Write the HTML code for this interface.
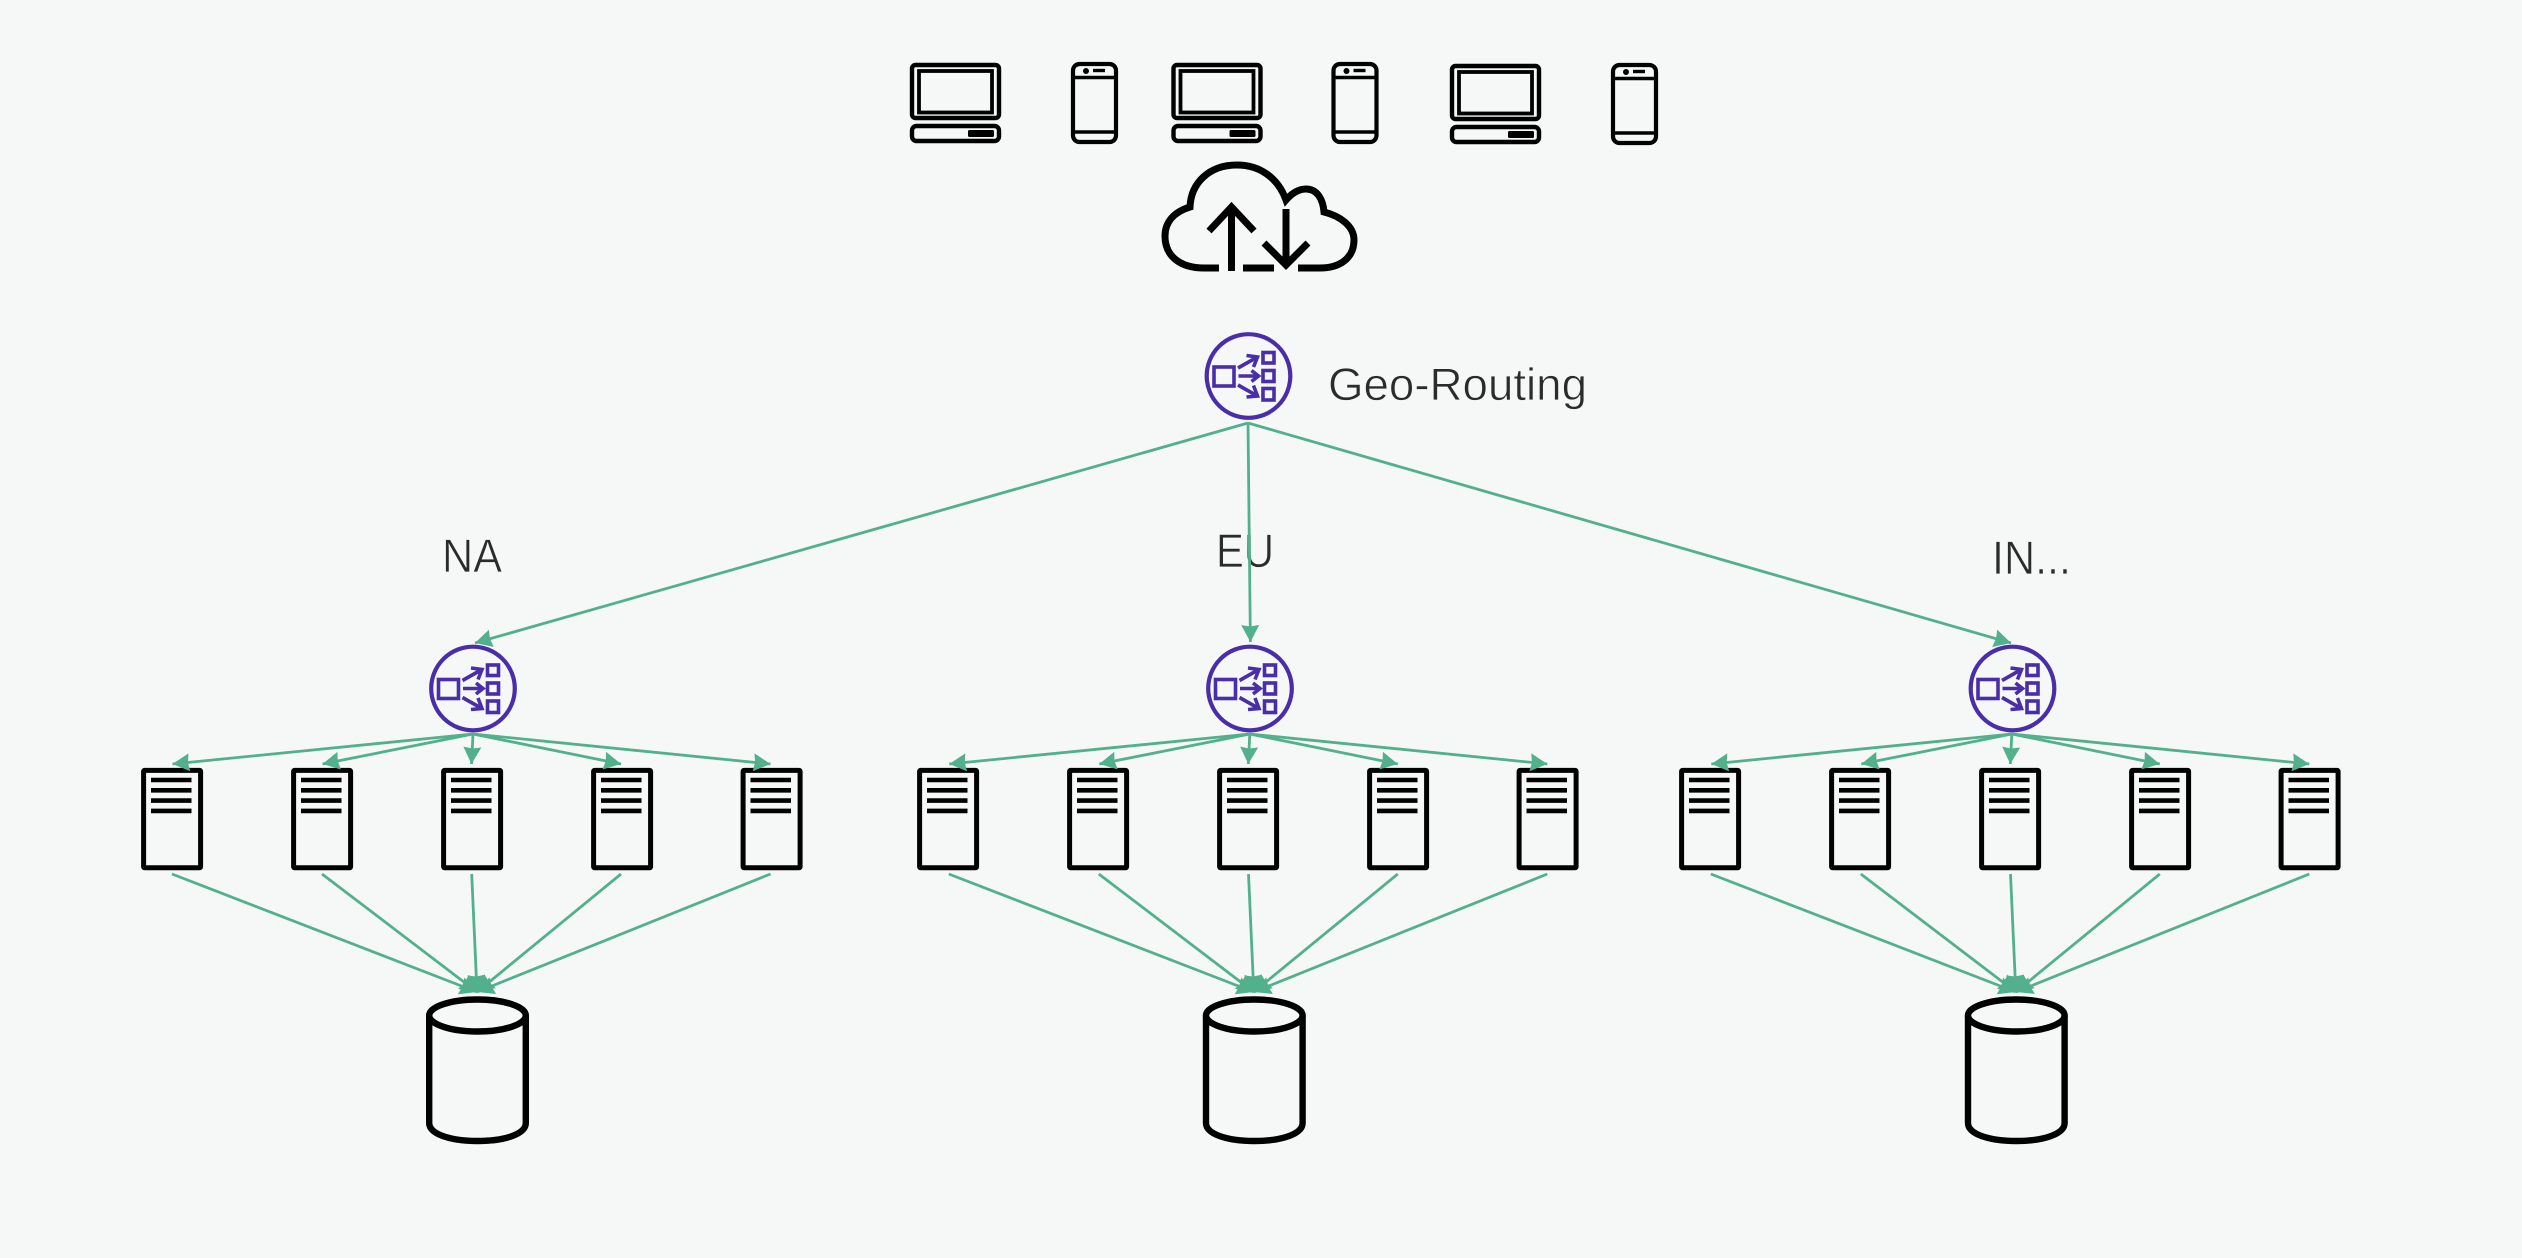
<!DOCTYPE html>
<html lang="en">
<head>
<meta charset="utf-8">
<title>Geo-Routing diagram</title>
<style>
html,body{margin:0;padding:0;background:#f6f8f8;width:2522px;height:1258px;overflow:hidden}
svg{display:block}
.t{font-family:"Liberation Sans",sans-serif;fill:#2b2b2b;stroke:#f6f8f8;stroke-width:.7;paint-order:normal}
.g{stroke:#52b18c;stroke-width:2.8;fill:none}
</style>
</head>
<body>
<svg width="2522" height="1258" viewBox="0 0 2522 1258" xmlns="http://www.w3.org/2000/svg">
<defs>
  <marker id="ah" markerUnits="userSpaceOnUse" markerWidth="17" markerHeight="18" refX="17" refY="9" orient="auto" viewBox="0 0 17 18">
    <path d="M0 0 L17 9 L0 18 L1.5 9 Z" fill="#52b18c"/>
  </marker>

  <g id="laptop">
    <rect x="912" y="65" width="87" height="53" rx="3.5" fill="none" stroke="#000" stroke-width="4.4"/>
    <rect x="919" y="71" width="73" height="41.5" fill="none" stroke="#000" stroke-width="3.8"/>
    <rect x="912" y="126" width="87" height="15" rx="4.5" fill="none" stroke="#000" stroke-width="4.4"/>
    <rect x="968" y="130" width="26" height="7" rx="1.5" fill="#000"/>
  </g>
  <g id="phone">
    <rect x="1073" y="64" width="43" height="78" rx="6.5" fill="none" stroke="#000" stroke-width="4.2"/>
    <path d="M1073 77.5H1116M1073 132H1116" stroke="#000" stroke-width="3.6" fill="none"/>
    <circle cx="1086" cy="71" r="3" fill="#000"/>
    <path d="M1093 70.5H1105" stroke="#000" stroke-width="3.4"/>
  </g>
  <g id="router" fill="none" stroke="#4a2da8">
    <circle cx="0" cy="0" r="41.8" stroke-width="4.2"/>
    <rect x="-34.5" y="-9" width="20" height="19" stroke-width="3.6"/>
    <rect x="14.5" y="-23.5" width="11" height="10.5" stroke-width="3.6"/>
    <rect x="14.5" y="-5.5" width="11" height="11" stroke-width="3.6"/>
    <rect x="14.5" y="12.5" width="11" height="11.5" stroke-width="3.6"/>
    <path d="M-10.5 -8 L8 -18.5 M-2 -20.5 L9 -19 L5 -9" stroke-width="3.6"/>
    <path d="M-10 0 H9 M3 -5.5 L10 0 L3 5.5" stroke-width="3.6"/>
    <path d="M-10.5 9 L8 19.5 M5 9.5 L9 20 L-2 21" stroke-width="3.6"/>
  </g>
  <g id="server">
    <rect x="143.6" y="770.4" width="57" height="97.4" rx="1" fill="none" stroke="#000" stroke-width="5"/>
    <path d="M151 780H191.5M151 790.3H191.5M151 800.6H191.5M151 810.9H191.5" stroke="#000" stroke-width="4.6" fill="none"/>
  </g>
  <g id="servers">
    <use href="#server" x="0"/>
    <use href="#server" x="150"/>
    <use href="#server" x="300"/>
    <use href="#server" x="450"/>
    <use href="#server" x="599.5"/>
  </g>
  <g id="fan">
    <line class="g" x1="473" y1="734" x2="172.5" y2="764" marker-end="url(#ah)"/>
    <line class="g" x1="473" y1="734" x2="322.5" y2="764" marker-end="url(#ah)"/>
    <line class="g" x1="473" y1="734" x2="471.5" y2="764" marker-end="url(#ah)"/>
    <line class="g" x1="473" y1="734" x2="621" y2="764" marker-end="url(#ah)"/>
    <line class="g" x1="473" y1="734" x2="770.5" y2="764" marker-end="url(#ah)"/>
    <line class="g" x1="172" y1="874" x2="477" y2="992" marker-end="url(#ah)"/>
    <line class="g" x1="322" y1="874" x2="477" y2="992" marker-end="url(#ah)"/>
    <line class="g" x1="471.7" y1="874" x2="477" y2="992" marker-end="url(#ah)"/>
    <line class="g" x1="621" y1="874" x2="477" y2="992" marker-end="url(#ah)"/>
    <line class="g" x1="770.5" y1="874" x2="477" y2="992" marker-end="url(#ah)"/>
  </g>
  <g id="db" fill="none" stroke="#000" stroke-width="6.4">
    <ellipse cx="477.5" cy="1015.5" rx="48.3" ry="16"/>
    <path d="M429.2 1015.5V1123C429.2 1134 450 1141 477.5 1141S525.8 1134 525.8 1123V1015.5"/>
  </g>
</defs>

<rect x="0" y="0" width="2522" height="1258" fill="#f6f8f8"/>

<!-- devices -->
<use href="#laptop"/>
<use href="#phone"/>
<use href="#laptop" x="261.5"/>
<use href="#phone" x="260.5"/>
<use href="#laptop" x="540" y="1"/>
<use href="#phone" x="540" y="1"/>

<!-- cloud -->
<g fill="none" stroke="#000" stroke-width="7">
  <path d="M1219 268H1204C1180 268 1165 256 1165 236C1165 222 1174 212 1190 207C1191 183 1209 165 1237 165C1260 165 1278 178 1286 200C1293 192 1300 189 1306 189C1317 189 1323 199 1324 212C1340 216 1354 226 1354 240C1354 258 1340 268 1320 268H1298"/>
  <path d="M1243 268H1274"/>
  <path d="M1231.5 271V208"/>
  <path d="M1209 231L1231.5 207L1254 231"/>
  <path d="M1286 209V264"/>
  <path d="M1264 243L1286 265L1308 243"/>
</g>

<!-- labels -->
<text class="t" x="1328" y="400" font-size="45" textLength="259" lengthAdjust="spacingAndGlyphs">Geo-Routing</text>
<text class="t" x="442" y="572" font-size="47" textLength="60" lengthAdjust="spacingAndGlyphs">NA</text>
<text class="t" x="1216" y="567" font-size="47" textLength="58" lengthAdjust="spacingAndGlyphs">EU</text>
<text class="t" x="1992" y="574" font-size="47" textLength="79" lengthAdjust="spacingAndGlyphs">IN...</text>

<!-- top connectors -->
<line class="g" x1="1248" y1="423" x2="475" y2="643" marker-end="url(#ah)"/>
<line class="g" x1="1248" y1="423" x2="1250.4" y2="642" marker-end="url(#ah)"/>
<line class="g" x1="1248" y1="423" x2="2011" y2="643" marker-end="url(#ah)"/>

<!-- routers -->
<use href="#router" x="1248.5" y="376"/>
<use href="#router" x="473" y="688.5"/>
<use href="#router" x="1250" y="688.5"/>
<use href="#router" x="2012.5" y="688.5"/>

<!-- servers -->
<use href="#servers"/>
<use href="#servers" x="776"/>
<use href="#servers" x="1538"/>

<!-- fans -->
<use href="#fan"/>
<use href="#fan" x="776.8"/>
<use href="#fan" x="1538.8"/>

<!-- databases -->
<use href="#db"/>
<use href="#db" x="776.8"/>
<use href="#db" x="1538.8"/>
</svg>
</body>
</html>
